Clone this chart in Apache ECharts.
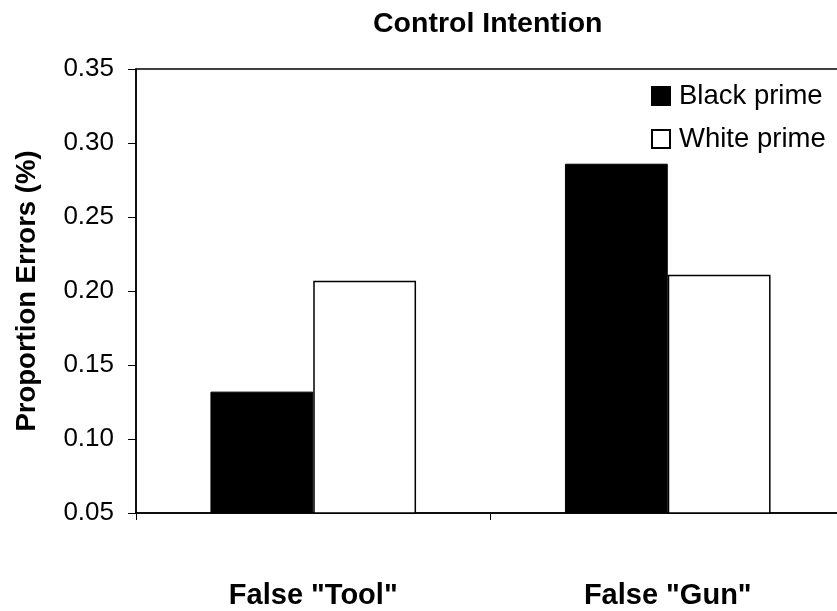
<!DOCTYPE html>
<html>
<head>
<meta charset="utf-8">
<title>Control Intention</title>
<script src="https://cdn.jsdelivr.net/npm/echarts@6/dist/echarts.min.js"></script>
<style>
  html, body { margin: 0; padding: 0; background: #fff; }
  #chart { width: 837px; height: 611px; }
</style>
</head>
<body>
<div id="chart"></div>
<script>
// Error proportions by error type and prime race
const categories = ['False "Tool"', 'False "Gun"'];
const blackPrime = [0.132, 0.286];
const whitePrime = [0.207, 0.211];
const seriesNames = ['Black prime', 'White prime'];
const yTicks = { min: 0.05, max: 0.35, step: 0.05 };

const FONT = '"Liberation Sans", Arial, Helvetica, sans-serif';

const chart = echarts.init(document.getElementById('chart'), null, { renderer: 'canvas' });

chart.setOption({
  animation: false,
  backgroundColor: '#ffffff',
  title: {
    text: 'Control Intention',
    left: 373,
    top: 10,
    padding: 0,
    textStyle: { fontFamily: FONT, fontSize: 28.5, fontWeight: 'bold', color: '#000' }
  },
  legend: {
    orient: 'vertical',
    left: 651,
    top: 82,
    padding: 0,
    itemWidth: 18,
    itemHeight: 18,
    itemGap: 15,
    icon: 'rect',
    data: seriesNames,
    textStyle: { fontFamily: FONT, fontSize: 27.5, color: '#000', padding: [0, 0, 0, 4] }
  },
  grid: {
    left: 136,
    top: 69,
    width: 709,
    bottom: 98,
    show: true,
    borderColor: '#000',
    borderWidth: 1.5,
    containLabel: false,
    outerBoundsMode: 'none'
  },
  xAxis: {
    type: 'category',
    data: categories,
    axisLine: { show: true, lineStyle: { color: '#000', width: 1.5 } },
    axisTick: { show: true, alignWithLabel: false, length: 7, lineStyle: { color: '#000', width: 1 } },
    axisLabel: {
      margin: 68,
      fontFamily: FONT,
      fontSize: 29,
      fontWeight: 'bold',
      color: '#000'
    }
  },
  yAxis: {
    type: 'value',
    min: yTicks.min,
    max: yTicks.max,
    interval: yTicks.step,
    name: 'Proportion Errors (%)',
    nameLocation: 'middle',
    nameRotate: 90,
    nameGap: 95,
    nameTextStyle: { fontFamily: FONT, fontSize: 27.5, fontWeight: 'bold', color: '#000' },
    axisLine: { show: true, lineStyle: { color: '#000', width: 1.5 } },
    axisTick: { show: true, inside: false, length: 8, lineStyle: { color: '#000', width: 1 } },
    splitLine: { show: false },
    axisLabel: {
      margin: 22,
      fontFamily: FONT,
      fontSize: 26,
      color: '#000',
      formatter: v => v.toFixed(2)
    }
  },
  series: [
    {
      name: seriesNames[0],
      type: 'bar',
      data: blackPrime,
      barGap: '0%',
      barCategoryGap: '42%',
      itemStyle: { color: '#000', borderColor: '#000', borderWidth: 1 }
    },
    {
      name: seriesNames[1],
      type: 'bar',
      data: whitePrime,
      barGap: '0%',
      barCategoryGap: '42%',
      itemStyle: { color: '#fff', borderColor: '#000', borderWidth: 1.5 }
    }
  ]
});
</script>
</body>
</html>
